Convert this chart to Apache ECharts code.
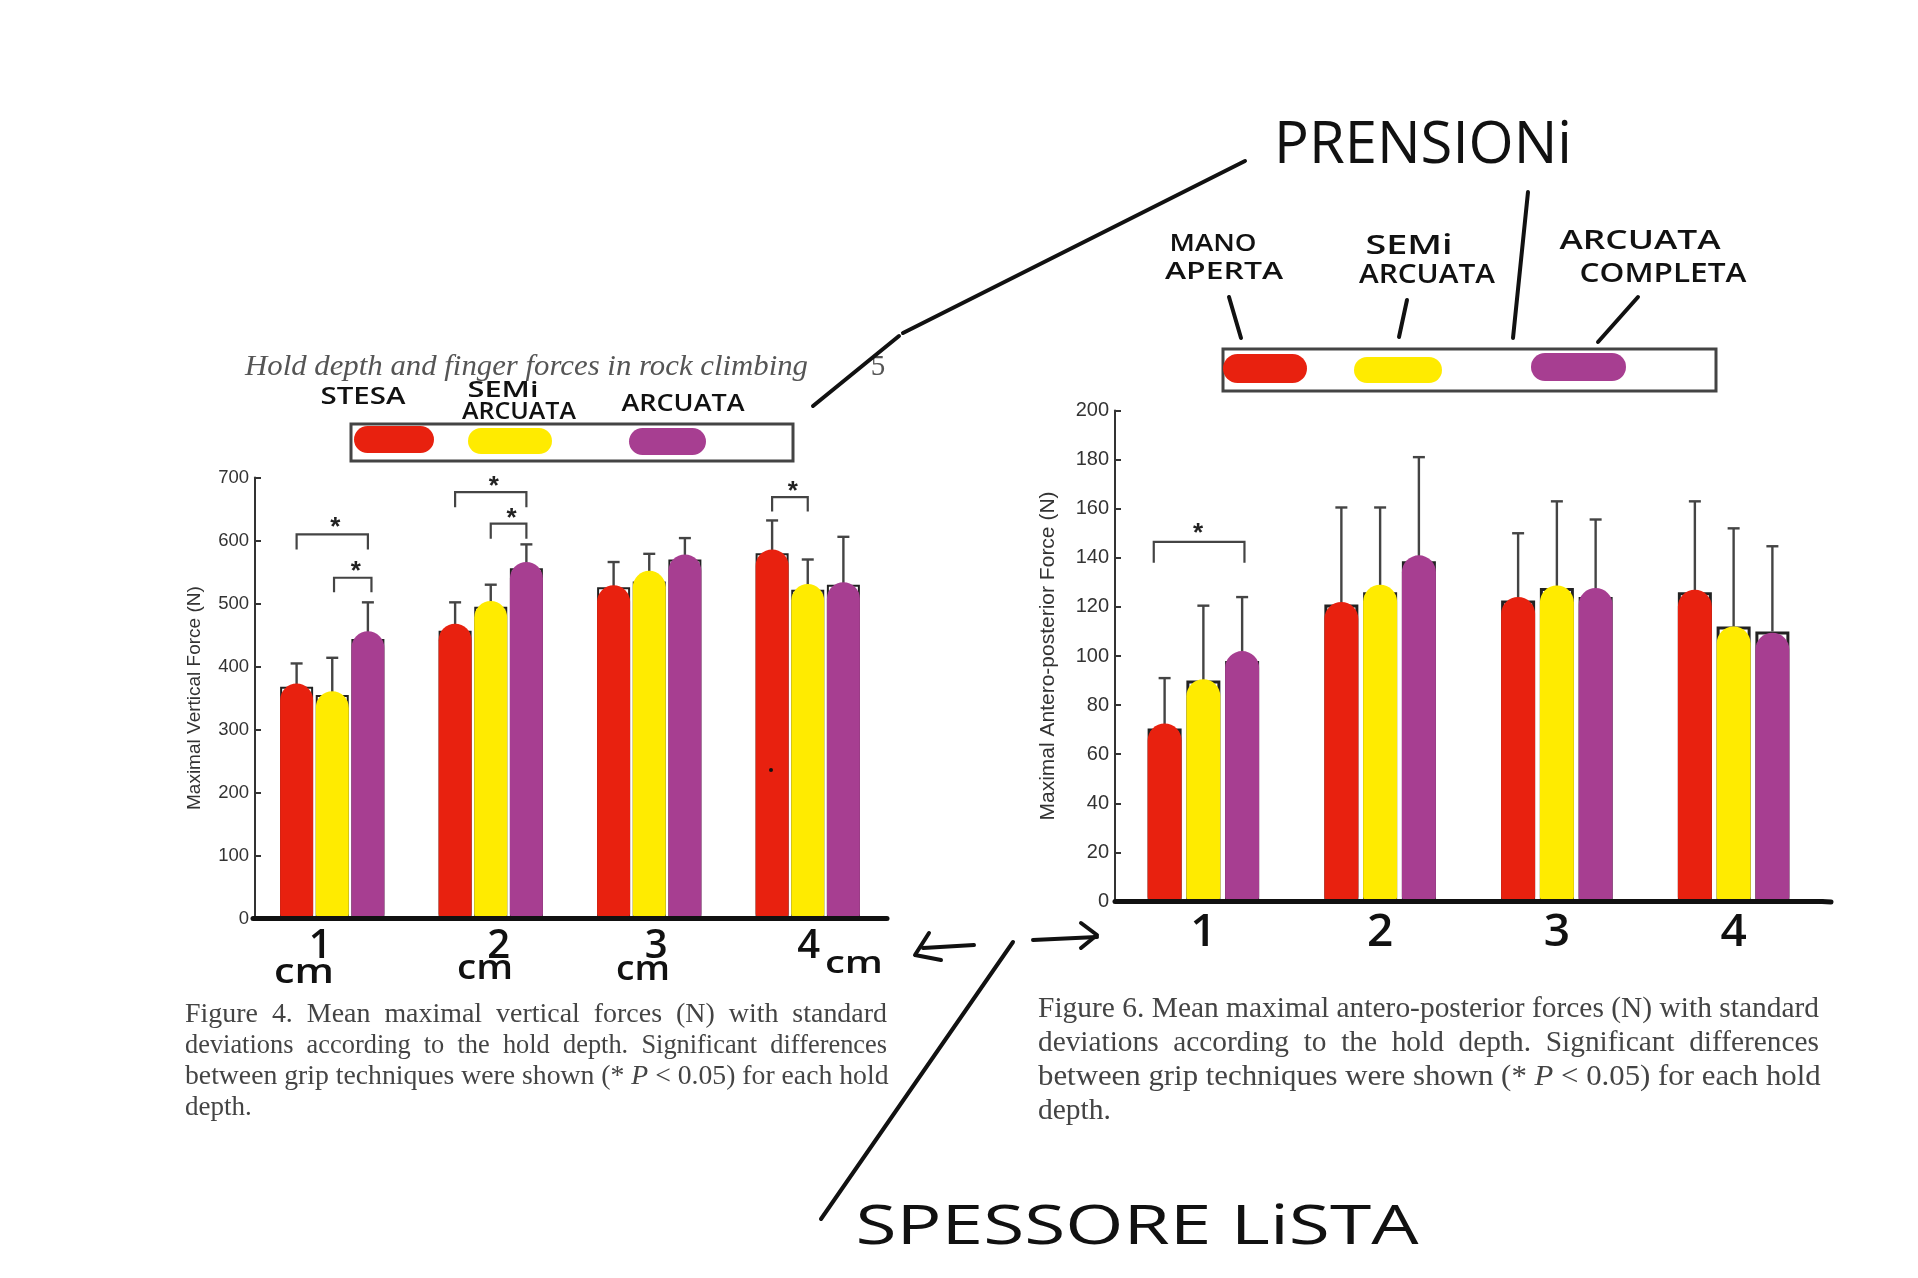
<!DOCTYPE html>
<html><head><meta charset="utf-8">
<style>html,body{margin:0;padding:0;background:#fff}#c{width:1918px;height:1278px}</style>
<script src="https://cdn.jsdelivr.net/npm/echarts@6/dist/echarts.min.js"></script>
</head><body><div id="c"></div>
<script>
const categories = ['1','2','3','4'];
const gripNames = ['Stesa','Semi arcuata','Arcuata'];
const gripNamesAP = ['Mano aperta','Semi arcuata','Arcuata completa'];
const colors = ['#e8210f','#ffeb00','#a73e91'];

const verticalBars = [[368,355,444],[457,495,556],[526,535,570],[580,522,530]];
const verticalPaint = [[373,361,456],[468,504,566],[529,552,578],[586,531,534]];
const verticalTops = [[405,414,502],[502,530,594],[566,579,604],[632,570,606]];
const verticalBrackets = [
  [0,0,2,610,586,586,628],[0,1.05,2.1,541,518,518,558],
  [1,0,2,677,653,653,693],[1,1,2,627,603,603,643],
  [3,0,1,669,646,646,686]];

const apBars = [[70.5,90,98],[121,126,138.6],[122.6,127.7,124],[126,112,110]];
const apPaint = [[72.5,90.5,102],[122,129,141],[124,128.7,127.7],[127,112,109.5]];
const apTops = [[91,120.5,124],[160.5,160.5,181],[150,163,155.6],[163,152,144.7]];
const apBrackets = [[0,-0.28,2.06,146.5,138,138,152]];

const headerText = 'Hold depth and finger forces in rock climbing';
const captionLeft = ['Figure 4. Mean maximal vertical forces (N) with standard',
  'deviations according to the hold depth. Significant differences',
  'between grip techniques were shown (* P < 0.05) for each hold','depth.'];
const captionRight = ['Figure 6. Mean maximal antero-posterior forces (N) with standard',
  'deviations according to the hold depth. Significant differences',
  'between grip techniques were shown (* P < 0.05) for each hold','depth.'];

const chart = echarts.init(document.getElementById('c'), null, {renderer:'canvas'});
const INK = '#111', AX = '#333';
const ctx = document.createElement('canvas').getContext('2d');
function measure(t, font){ ctx.font = font; return ctx.measureText(t).width; }
function hand(text, cx, cy, size, width, weight){
  const font = (weight||600)+' '+size+'px "Open Sans"';
  return {type:'text', z:50, x:cx, y:cy, scaleX:width/measure(text,font), originX:0, originY:0,
    style:{text, font, fill:INK, align:'center', verticalAlign:'middle'}};
}
function stroke(points, w){
  return {type:'polyline', z:50, shape:{points}, style:{stroke:INK, lineWidth:w||4, lineCap:'round', lineJoin:'round', fill:null}};
}
function paintBlob(x0,y0,x1,y1,c){
  return {type:'rect', z:50, shape:{x:x0,y:y0,width:x1-x0,height:y1-y0,r:(y1-y0)/2}, style:{fill:c}};
}
function box(x0,y0,x1,y1){
  return {type:'rect', z:49, shape:{x:x0,y:y0,width:x1-x0,height:y1-y0}, style:{fill:'#fff', stroke:'#444', lineWidth:3}};
}
function justified(line, x0, x1, y, font, fill, doJustify){
  let text = line, w = measure(line,font), scale = 1;
  if (doJustify) {
    const words = line.split(' '), gaps = words.length-1;
    const sp = measure(' ',font), extra = Math.max(0, Math.round((x1-x0-w)/sp/gaps));
    text = words.join(' '.repeat(1+extra));
    w = measure(text,font); scale = (x1-x0)/w;
  }
  return {type:'text', z:50, x:x0, y, scaleX:scale, originX:0, originY:0,
    style:{text:text.replace(/(\s)P(\s)/,'$1{i|P}$2'), font, fill, align:'left', verticalAlign:'middle',
      rich:{i:{font:'italic '+font, fill}}}};
}
function barSeries(name, gi, axisIdx, data, z, paint, color, gap, bw){
  return {name, type:'bar', xAxisIndex:axisIdx, yAxisIndex:gi, data, z, barWidth:bw, barGap:gap, animation:false,
    itemStyle: paint ? {color, borderRadius:[bw/2,bw/2,5,5]} : {color:'#fff', borderColor:'#222', borderWidth:gi?3:2},
    emphasis:{disabled:true}};
}
function errSeries(gi, axisIdx, bars, tops, slot, spacing){
  return {type:'custom', xAxisIndex:axisIdx, yAxisIndex:gi, z:3, animation:false, silent:true,
    data: categories.map((c,i)=>[i,bars[i][slot],tops[i][slot]]),
    encode:{x:0,y:[1,2]},
    renderItem(p,api){
      const b = api.coord([api.value(0),api.value(1)]), t = api.coord([api.value(0),api.value(2)]);
      const x = b[0]+(slot-1)*spacing, st = {stroke:'#444', lineWidth:2.4};
      return {type:'group', children:[
        {type:'line', shape:{x1:x,y1:b[1],x2:x,y2:t[1]}, style:st},
        {type:'line', shape:{x1:x-6,y1:t[1],x2:x+6,y2:t[1]}, style:st}]};
    }};
}
function bracketSeries(gi, axisIdx, brackets, spacing){
  return {type:'custom', xAxisIndex:axisIdx, yAxisIndex:gi, z:4, animation:false, silent:true,
    data: brackets, encode:{x:0,y:3},
    renderItem(p,api){
      const g=api.value(0), xf=api.coord([g,0])[0]+(api.value(1)-1)*spacing, xt=api.coord([g,0])[0]+(api.value(2)-1)*spacing;
      const yT=api.coord([g,api.value(3)])[1], yL=api.coord([g,api.value(4)])[1], yR=api.coord([g,api.value(5)])[1], yS=api.coord([g,api.value(6)])[1];
      return {type:'group', children:[
        {type:'polyline', shape:{points:[[xf,yL],[xf,yT],[xt,yT],[xt,yR]]}, style:{stroke:'#444', lineWidth:2.2, fill:null}},
        {type:'text', style:{text:'*', x:(xf+xt)/2+(gi?-1:3), y:yS+5, font:'bold 26px "Liberation Sans"', fill:'#222', align:'center', verticalAlign:'middle'}}]};
    }};
}
const shifts = {'1':-12,'2':8,'3':7,'4':1};
function leftLabel(v){ return '{s'+v+'|'+v+'}'; }
const leftRich = {};
categories.forEach(c=>{const s=shifts[c]; leftRich['s'+c]={fontSize:40,fontWeight:600,color:INK,fontFamily:'"Open Sans"',padding:[0,s<0?-2*s:0,0,s>0?2*s:0]};});

const baseY = {type:'value', min:0, axisLine:{show:true,lineStyle:{color:AX,width:2}},
  axisTick:{show:true,inside:true,length:6,lineStyle:{color:AX,width:2}}, splitLine:{show:false},
  nameLocation:'center', nameRotate:90};
const option = {
  backgroundColor:'#fff', animation:false,
  grid:[{left:253,width:634,top:477.6,height:441},{left:1115,width:707,top:410.5,height:491}],
  xAxis:[
    {type:'category',gridIndex:0,data:categories,z:10,axisLine:{lineStyle:{color:INK,width:5}},axisTick:{show:false},
      axisLabel:{margin:8,formatter:leftLabel,rich:leftRich}},
    {type:'category',gridIndex:1,data:categories,z:10,axisLine:{lineStyle:{color:INK,width:5}},axisTick:{show:false},
      axisLabel:{margin:8,fontSize:46,fontWeight:600,color:INK,fontFamily:'"Open Sans"'}},
    {type:'category',gridIndex:0,data:categories,show:false},
    {type:'category',gridIndex:1,data:categories,show:false}],
  yAxis:[
    Object.assign({},baseY,{gridIndex:0,max:700,interval:100,offset:-2,name:'Maximal Vertical Force (N)',nameGap:51,
      nameTextStyle:{fontFamily:'"Liberation Sans"',fontSize:19,color:'#333'},
      axisLabel:{fontFamily:'"Liberation Sans"',fontSize:18.5,color:'#333',margin:6}}),
    Object.assign({},baseY,{gridIndex:1,max:200,interval:20,name:'Maximal Antero-posterior Force (N)',nameGap:56,
      nameTextStyle:{fontFamily:'"Liberation Sans"',fontSize:21,color:'#333'},
      axisLabel:{fontFamily:'"Liberation Sans"',fontSize:20,color:'#333',margin:6}})],
  series:[],
  graphic:{elements:[]}
};
[0,1,2].forEach(s=>{
  option.series.push(barSeries(gripNames[s]+' (bar)',0,0,verticalBars.map(r=>r[s]),2,false,null,'8%',33));
  option.series.push(barSeries(gripNamesAP[s]+' (bar)',1,1,apBars.map(r=>r[s]),2,false,null,'14%',34));
  option.series.push(barSeries(gripNames[s],0,2,verticalPaint.map(r=>r[s]),5,true,colors[s],'8%',33));
  option.series.push(barSeries(gripNamesAP[s],1,3,apPaint.map(r=>r[s]),5,true,colors[s],'14%',34));
  option.series.push(errSeries(0,0,verticalBars,verticalTops,s,35.64));
  option.series.push(errSeries(1,1,apBars,apTops,s,38.76));
});
option.series.push(bracketSeries(0,0,verticalBrackets,35.64));
option.series.push(bracketSeries(1,1,apBrackets,38.76));

const capL='27px "Liberation Serif"', capR='29.5px "Liberation Serif"';
const hdrFont='italic 29px "Liberation Serif"';
option.graphic.elements = [
  {type:'text', z:50, x:245, y:367, scaleX:563/measure(headerText,hdrFont), originX:0, originY:0,
    style:{text:headerText, font:hdrFont, fill:'#555', verticalAlign:'middle'}},
  {type:'text', z:50, x:878, y:367, style:{text:'5', font:'29px "Liberation Serif"', fill:'#555', align:'center', verticalAlign:'middle'}},
  box(351,424,793,461), paintBlob(354,426,434,453,colors[0]), paintBlob(468,428,552,454,colors[1]), paintBlob(629,428,706,455,colors[2]),
  box(1223,349,1716,391), paintBlob(1223,354,1307,383,colors[0]), paintBlob(1354,357,1442,383,colors[1]), paintBlob(1531,353,1626,381,colors[2]),
  hand('STESA',363,397,23,85), hand('SEMi',503,391,22,71), hand('ARCUATA',519,412,23,114), hand('ARCUATA',683,404,23,123),
  hand('MANO',1213,244,24,87), hand('APERTA',1224,272,24,118), hand('SEMi',1409,246,27,87), hand('ARCUATA',1427,275,27,136),
  hand('ARCUATA',1640,241,27,161), hand('COMPLETA',1663,274,27,167),
  hand('PRENSIONi',1423,146,58,298,400), hand('SPESSORE LiSTA',1137,1229,54,563,400),
  hand('cm',304,973,34,60,600), hand('cm',485,969,34,56,600), hand('cm',643,970,34,54,600), hand('cm',854,964,30,58,600),
  stroke([[1245,161],[903,333]]), stroke([[899,336],[813,406]]), stroke([[1528,192],[1513,338]]),
  stroke([[1229,297],[1241,338]]), stroke([[1407,300],[1399,337]]), stroke([[1638,297],[1598,342]]),
  stroke([[1013,942],[821,1219]]),
  stroke([[974,945],[923,948]],4), stroke([[929,933],[915,955],[941,960]],4),
  stroke([[1033,940],[1097,937]],4), stroke([[1081,923],[1097,935],[1081,948]],4),
  stroke([[1822,901.5],[1831,902]],5),
  {type:'circle', z:50, shape:{cx:771,cy:770,r:2}, style:{fill:'#111'}}
];
captionLeft.forEach((l,i)=>option.graphic.elements.push(justified(l,185,887,[1015,1046,1077,1108][i],capL,'#444',i<3)));
captionRight.forEach((l,i)=>option.graphic.elements.push(justified(l,1038,1819,[1009,1043,1077,1111][i],capR,'#444',i<3)));
chart.setOption(option);
</script></body></html>
